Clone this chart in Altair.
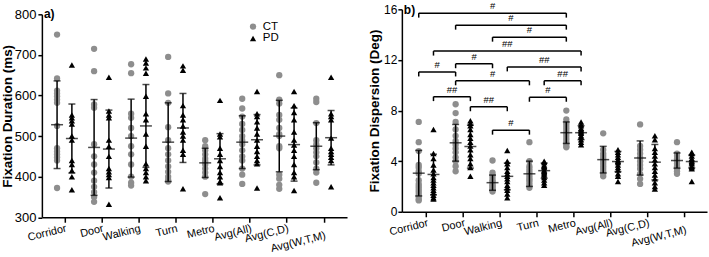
import json

import altair as alt
import pandas as pd

FONT = "Liberation Sans"

categories = ["Corridor", "Door", "Walking", "Turn", "Metro",
              "Avg(All)", "Avg(C,D)", "Avg(W,T,M)"]
group_names = ["CT", "PD"]
group_colors = ["#8e8e8e", "#000000"]
group_shapes = ["circle", "triangle-up"]

# Fixation duration (ms): one list of subjects per category
duration_ct = [
    [750, 642, 612, 605, 598, 590, 582, 525, 470, 462, 455, 448, 440, 372],
    [715, 660, 578, 570, 480, 450, 430, 410, 390, 375, 362, 350, 338],
    [677, 655, 555, 545, 520, 500, 475, 455, 430, 400, 385, 378],
    [695, 605, 582, 522, 490, 470, 455, 440, 425, 412, 400, 392, 388],
    [490, 475, 465, 455, 445, 438, 430, 420, 410, 400, 357],
    [592, 568, 548, 530, 515, 500, 490, 480, 465, 450, 440, 420, 405, 382],
    [650, 590, 580, 552, 540, 520, 505, 500, 475, 470, 405, 395, 380, 370],
    [592, 584, 532, 490, 480, 470, 460, 450, 435, 420, 410, 385],
]
duration_pd = [
    [675, 552, 545, 538, 530, 500, 490, 440, 430, 415, 400, 368],
    [645, 562, 552, 545, 490, 475, 450, 420, 412, 405, 398, 332],
    [690, 680, 668, 655, 598, 555, 540, 505, 475, 432, 420, 410, 400, 390],
    [673, 662, 575, 552, 540, 525, 510, 500, 490, 465, 455, 370],
    [588, 505, 498, 470, 455, 440, 425, 410, 400, 388, 385, 348],
    [610, 555, 548, 535, 520, 505, 490, 475, 462, 450, 440, 432, 372],
    [610, 575, 558, 540, 510, 490, 478, 465, 450, 430, 410, 400, 366],
    [645, 555, 548, 540, 495, 470, 462, 455, 448, 440, 375],
]
duration_mean_ct = [528, 472, 495, 485, 434, 485, 500, 475]
duration_sd_ct = [108, 118, 96, 97, 36, 65, 88, 58]
duration_mean_pd = [494, 468, 525, 520, 444, 491, 479, 496]
duration_sd_pd = [85, 96, 102, 85, 62, 62, 90, 67]

# Fixation dispersion (deg)
dispersion_ct = [
    [7.1, 5.5, 4.8, 3.7, 3.5, 3.2, 3.0, 2.5, 2.2, 2.0, 1.8, 1.6, 1.4, 1.2, 1.0, 0.9],
    [8.5, 7.8, 7.1, 6.5, 6.0, 5.6, 5.3, 5.0, 4.7, 4.3, 4.0, 3.6, 3.2],
    [4.05, 3.1, 2.9, 2.7, 2.5, 2.4, 2.2, 2.1, 2.0, 1.9, 1.8, 1.7, 1.6],
    [5.5, 4.0, 3.6, 3.4, 3.2, 3.0, 2.8, 2.6, 2.5, 2.3, 2.1, 1.9],
    [8.0, 7.3, 7.0, 6.8, 6.6, 6.4, 6.2, 6.0, 5.8, 5.6, 5.4, 5.2, 5.1],
    [6.2, 4.9, 4.6, 4.4, 4.2, 4.0, 3.8, 3.6, 3.4, 3.2, 3.0, 2.8],
    [6.9, 5.2, 4.9, 4.6, 4.3, 4.0, 3.7, 3.4, 3.0, 2.6, 2.2],
    [5.5, 4.6, 4.4, 4.2, 4.0, 3.8, 3.6, 3.4, 3.2, 3.0],
]
dispersion_pd = [
    [6.5, 4.6, 4.2, 3.7, 3.3, 3.0, 2.7, 2.5, 2.3, 2.1, 1.9, 1.7, 1.5, 1.3, 1.1, 1.0],
    [7.2, 7.0, 6.8, 6.5, 6.1, 5.8, 5.5, 5.2, 4.9, 4.5, 4.2, 3.8, 3.5, 2.8],
    [4.85, 4.0, 3.8, 3.5, 3.2, 3.0, 2.8, 2.6, 2.4, 2.1, 1.9, 1.7, 1.4, 1.1],
    [4.0, 3.9, 3.7, 3.6, 3.5, 3.3, 3.2, 3.1, 3.0, 2.9, 2.7, 2.5, 2.3, 2.1],
    [7.1, 6.9, 6.8, 6.6, 6.5, 6.4, 6.3, 6.2, 6.0, 5.9, 5.7, 5.5, 5.3],
    [4.9, 4.7, 4.5, 4.3, 4.1, 4.0, 3.9, 3.7, 3.5, 3.3, 3.0, 2.8, 2.4],
    [6.0, 5.7, 5.0, 4.7, 4.4, 4.1, 3.8, 3.5, 3.2, 2.9, 2.6, 2.3, 2.0, 1.8],
    [4.7, 4.6, 4.4, 4.2, 4.1, 4.0, 3.9, 3.8, 3.6, 3.5, 3.4, 2.4],
]
dispersion_mean_ct = [3.05, 5.45, 2.3, 3.0, 6.25, 4.12, 4.25, 4.05]
dispersion_sd_ct = [1.8, 1.45, 0.6, 1.0, 0.85, 1.05, 1.35, 0.6]
dispersion_mean_pd = [2.95, 5.15, 2.8, 3.25, 6.25, 3.97, 3.92, 3.97]
dispersion_sd_pd = [1.6, 1.7, 1.05, 0.6, 0.55, 0.8, 1.4, 0.5]

# Pairwise comparisons on dispersion: (category, group) ends, bar height, mark
bracket_from = [("Corridor", "CT"), ("Door", "CT"), ("Walking", "CT"),
                ("Corridor", "PD"), ("Door", "CT"), ("Walking", "PD"),
                ("Corridor", "CT"), ("Door", "CT"), ("Turn", "PD"),
                ("Corridor", "PD"), ("Turn", "CT"), ("Door", "PD"),
                ("Walking", "CT")]
bracket_to = [("Metro", "CT"), ("Metro", "CT"), ("Metro", "CT"),
              ("Metro", "PD"), ("Walking", "CT"), ("Metro", "PD"),
              ("Door", "CT"), ("Turn", "CT"), ("Metro", "PD"),
              ("Door", "PD"), ("Metro", "CT"), ("Walking", "PD"),
              ("Turn", "CT")]
bracket_height = [15.7, 14.75, 13.8, 12.7, 11.7, 11.45, 11.05,
                  10.35, 10.35, 9.1, 9.05, 8.3, 6.45]
bracket_label = ["#", "#", "#", "##", "#", "##", "#",
                 "#", "##", "##", "#", "##", "#"]

# ---------------------------------------------------------------- tables
shift = {"CT": -0.2, "PD": 0.2}
cat_index = {c: i for i, c in enumerate(categories)}


def pos(cat, grp):
    return cat_index[cat] + shift[grp]


def points_frame(ct_lists, pd_lists):
    rows = []
    for cat, ct_vals, pd_vals in zip(categories, ct_lists, pd_lists):
        for grp, vals in (("CT", ct_vals), ("PD", pd_vals)):
            for v in vals:
                rows.append({"category": cat, "group": grp, "value": v,
                             "pos": pos(cat, grp)})
    return pd.DataFrame(rows)


def summary_frame(mean_ct, sd_ct, mean_pd, sd_pd):
    rows = []
    for i, cat in enumerate(categories):
        for grp, m, s in (("CT", mean_ct[i], sd_ct[i]),
                          ("PD", mean_pd[i], sd_pd[i])):
            rows.append({"category": cat, "group": grp, "mean": m,
                         "lo": m - s, "hi": m + s, "pos": pos(cat, grp)})
    return pd.DataFrame(rows)


brackets = pd.DataFrame({
    "x1": [pos(c, g) for c, g in bracket_from],
    "x2": [pos(c, g) for c, g in bracket_to],
    "y": bracket_height,
    "label": bracket_label,
})

# ---------------------------------------------------------------- axes
label_expr = "%s[round(datum.value)]" % json.dumps(categories)
last_index = categories.index("Avg(W,T,M)")


def x_axis():
    return alt.Axis(
        values=list(range(len(categories))), labelExpr=label_expr, title=None,
        labelAngle=-14, labelAlign="right", labelBaseline="top",
        labelFont=FONT, labelFontSize=11, labelColor="black",
        labelPadding={"condition": {"test": "datum.value == %d" % last_index,
                                    "value": 7}, "value": 0},
        labelOverlap=False, labelFlush=False, labelBound=False,
        tickSize=5, tickWidth=1.5, tickColor="black",
        domainColor="black", domainWidth=1.5, grid=False)


def y_axis(title, values, label_size, label_pad, title_pad):
    return alt.Axis(
        values=values, title=title, titleFont=FONT, titleFontSize=13.5,
        titleFontWeight="bold", titleColor="black", titlePadding=title_pad,
        labelFont=FONT, labelFontSize=label_size, labelColor="black",
        labelPadding=label_pad, labelFlush=False,
        tickSize=4, tickWidth=1.5, tickColor="black",
        domainColor="black", domainWidth=1.5, grid=False)


color_scale = alt.Scale(domain=group_names, range=group_colors)
shape_scale = alt.Scale(domain=group_names, range=group_shapes)


def panel(points, summary, x_domain, y_scale, y_ax, legend):
    xs = alt.Scale(domain=x_domain, nice=False, zero=False)

    def X(field):
        return alt.X(field, type="quantitative", scale=xs, axis=x_axis())

    def Y(field):
        return alt.Y(field, type="quantitative", scale=y_scale, axis=y_ax)

    dots = alt.Chart(points).mark_point(
        filled=True, opacity=1, size=40).encode(
        x=X("pos"), y=Y("value"),
        color=alt.Color("group:N", scale=color_scale, legend=legend),
        shape=alt.Shape("group:N", scale=shape_scale, legend=legend),
    )
    base = alt.Chart(summary)
    sd_lines = base.mark_rule(color="black", strokeWidth=1.5).encode(
        x=X("pos"), y=Y("lo"), y2="hi:Q")
    means = base.mark_tick(orient="horizontal", size=12, thickness=1.5,
                           color="black").encode(x=X("pos"), y=Y("mean"))
    caps_lo = base.mark_tick(orient="horizontal", size=7, thickness=1.5,
                             color="black").encode(x=X("pos"), y=Y("lo"))
    caps_hi = base.mark_tick(orient="horizontal", size=7, thickness=1.5,
                             color="black").encode(x=X("pos"), y=Y("hi"))
    return [dots, sd_lines, means, caps_lo, caps_hi], X, Y


def tag(text, top):
    return alt.Chart().mark_text(
        text=text, align="left", baseline="middle", font=FONT,
        fontSize=12, fontWeight="bold", color="black").encode(
        x=alt.value(2), y=alt.value(top))


# ---------------------------------------------------------------- panel a
# the duration axis starts a few pixels below the top of its view
A_HEIGHT = 208.5
A_TOP = 5
legend_a = alt.Legend(title=None, orient="none", legendX=206, legendY=11.5,
                      labelFont=FONT, labelFontSize=11.5, labelColor="black",
                      symbolSize=40, padding=0, rowPadding=-1.5, labelOffset=4,
                      symbolStrokeWidth=0)
layers_a, _, _ = panel(
    points_frame(duration_ct, duration_pd),
    summary_frame(duration_mean_ct, duration_sd_ct,
                  duration_mean_pd, duration_sd_pd),
    [-0.61, 7.63],
    alt.Scale(domain=[300, 800], range=[A_HEIGHT, A_TOP], nice=False, zero=False),
    y_axis("Fixation Duration (ms)", [300, 400, 500, 600, 700, 800], 13, 2, 0),
    legend_a)
chart_a = alt.layer(*layers_a, tag("a)", A_TOP)).properties(
    width=306, height=A_HEIGHT)

# ---------------------------------------------------------------- panel b
layers_b, Xb, Yb = panel(
    points_frame(dispersion_ct, dispersion_pd),
    summary_frame(dispersion_mean_ct, dispersion_sd_ct,
                  dispersion_mean_pd, dispersion_sd_pd),
    [-0.657, 7.613],
    alt.Scale(domain=[0, 16], nice=False, zero=False),
    y_axis("Fixation Dispersion (Deg)", [0, 4, 8, 12, 16], 12, 1, 2.5),
    None)
br = alt.Chart(brackets)
bar_top = br.mark_rule(color="black", strokeWidth=1.5).encode(
    x=Xb("x1"), x2="x2:Q", y=Yb("y"))
bar_legs = br.transform_fold(["x1", "x2"], as_=["end", "xe"]).mark_rule(
    color="black", strokeWidth=1.5, y2Offset=4.5).encode(
    x=Xb("xe"), y=Yb("y"), y2="y:Q")
bar_text = br.transform_calculate(xm="(datum.x1 + datum.x2) / 2").mark_text(
    baseline="alphabetic", dy=-4, font=FONT, fontSize=9.5,
    color="black").encode(x=Xb("xm"), y=Yb("y"), text="label:N")
chart_b = alt.layer(*layers_b, bar_top, bar_legs, bar_text, tag("b)", 1)
                    ).properties(width=306, height=203)

chart = alt.hconcat(chart_a, chart_b, spacing=20).resolve_scale(
    color="independent", shape="independent").properties(
    padding={"left": 0, "top": 0, "right": 2, "bottom": 2}
).configure_view(stroke=None)

chart.save("out.html", embed_options={"renderer": "svg", "actions": False})
